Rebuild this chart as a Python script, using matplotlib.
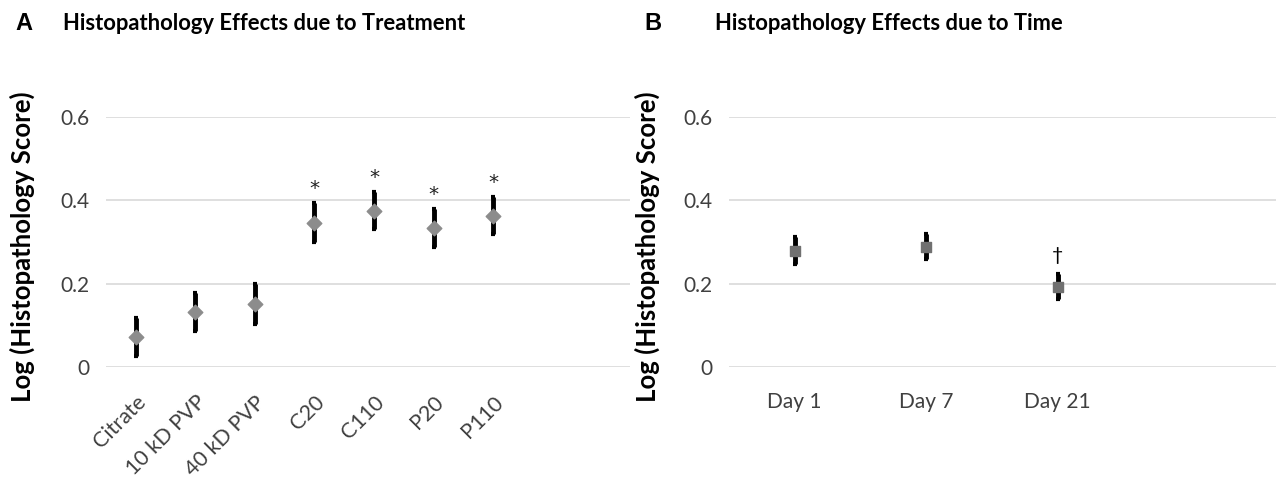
import matplotlib.pyplot as plt

plt.rcParams['font.family'] = ['Lato', 'DejaVu Sans']

# panel A data
treatments = ['Citrate', '10 kD PVP', '40 kD PVP', 'C20', 'C110', 'P20', 'P110']
treat_means = [0.072, 0.132, 0.151, 0.346, 0.375, 0.333, 0.363]
treat_err = [0.045, 0.046, 0.047, 0.047, 0.044, 0.045, 0.045]
treat_marks = ['', '', '', '*', '*', '*', '*']

# panel B data
days = ['Day 1', 'Day 7', 'Day 21']
day_means = [0.279, 0.288, 0.192]
day_err = [0.032, 0.030, 0.030]
day_marks = ['', '', '\u2020']

yticks = [0, 0.2, 0.4, 0.6]


def style_axis(ax):
    ax.set_ylim(0, 0.6)
    ax.set_yticks(yticks)
    ax.set_yticklabels(['0', '0.2', '0.4', '0.6'])
    ax.grid(axis='y', color='#d9d9d9', linewidth=1.2)
    ax.set_axisbelow(True)
    for s in ax.spines.values():
        s.set_visible(False)
    ax.tick_params(length=0, labelsize=15, labelcolor='#404040', pad=12)
    ax.set_ylabel('Log (Histopathology Score)', fontsize=18.5, fontweight='bold')


fig = plt.figure(figsize=(12.76, 4.79), dpi=100)

# ---- A ----
axA = fig.add_axes([0.0831, 0.2338, 0.4107, 0.522])
xa = list(range(len(treatments)))
axA.errorbar(xa, treat_means, yerr=treat_err, fmt='none', ecolor='black',
             elinewidth=3.5, capsize=1.5, capthick=3, zorder=2)
axA.scatter(xa, treat_means, marker='D', s=55, color='#8c8c8c', zorder=3)
for x, m, e, t in zip(xa, treat_means, treat_err, treat_marks):
    if t:
        axA.text(x, m + e + 0.022, t, ha='center', va='baseline', fontsize=14.5,
                 family='DejaVu Sans', color='#222222')
axA.set_xlim(-0.5, 8.3)
axA.set_xticks(xa)
axA.set_xticklabels(treatments, rotation=45, ha='right', rotation_mode='anchor')
style_axis(axA)
axA.tick_params(axis='x', pad=18, labelsize=15.5)
axA.yaxis.set_label_coords(-0.135, 0.482)
fig.text(0.012, 0.95, 'A', fontsize=17, fontweight='bold', va='center',
         family='Liberation Sans')
fig.text(0.049, 0.95, 'Histopathology Effects due to Treatment', fontsize=15.8,
         fontweight='bold', va='center')

# ---- B ----
axB = fig.add_axes([0.5713, 0.2338, 0.4287, 0.522])
xb = list(range(len(days)))
axB.errorbar(xb, day_means, yerr=day_err, fmt='none', ecolor='black',
             elinewidth=3.5, capsize=1.5, capthick=3, zorder=2)
axB.scatter(xb, day_means, marker='s', s=60, color='#707070', zorder=3)
for x, m, e, t in zip(xb, day_means, day_err, day_marks):
    if t:
        axB.text(x, m + e + 0.045, t, ha='center', va='center', fontsize=14)
axB.set_xlim(-0.5, 3.66)
axB.set_xticks(xb)
axB.set_xticklabels(days)
style_axis(axB)
axB.tick_params(axis='x', pad=18)
axB.yaxis.set_label_coords(-0.126, 0.482)
fig.text(0.505, 0.95, 'B', fontsize=17, fontweight='bold', va='center',
         family='Liberation Sans')
fig.text(0.56, 0.95, 'Histopathology Effects due to Time', fontsize=15.8,
         fontweight='bold', va='center')

fig.savefig('out.png', dpi=100)
